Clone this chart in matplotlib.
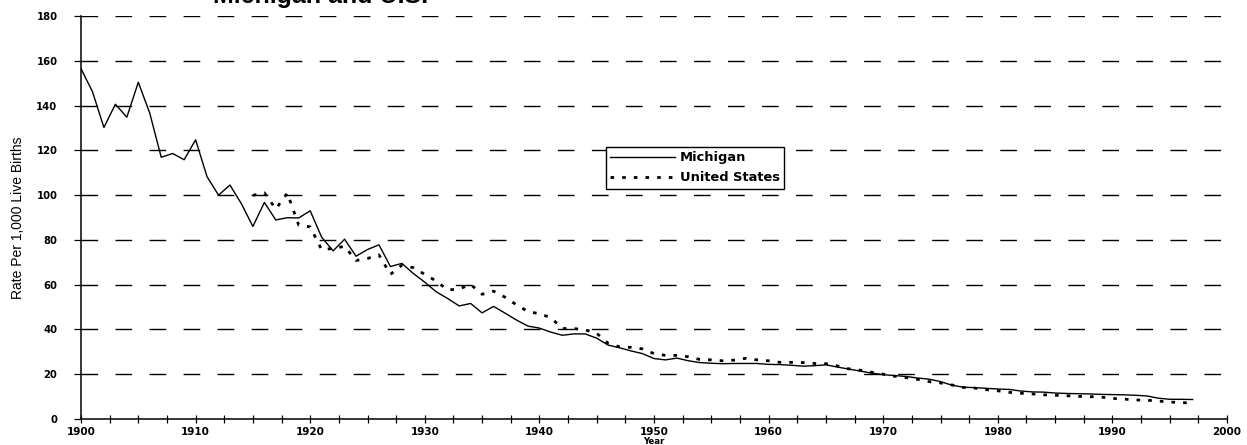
import matplotlib
matplotlib.use("Agg")
import matplotlib.pyplot as plt
from matplotlib.ticker import MultipleLocator

mi_years = list(range(1900, 1998))
mi_rate = [156.5, 146.2, 130.2, 140.6, 134.8, 150.4, 136.6, 116.9, 118.6, 115.8,
           124.7, 108.2, 100.0, 104.5, 96.1, 86.0, 96.7, 88.9, 89.9, 89.8,
           93.0, 81.2, 75.1, 80.3, 72.7, 75.7, 77.8, 68.1, 69.5, 65.0,
           61.1, 56.8, 53.8, 50.5, 51.6, 47.4, 50.3, 47.3, 44.2, 41.5,
           40.6, 38.8, 37.4, 38.0, 38.0, 36.1, 33.0, 31.8, 30.4, 29.2,
           27.0, 26.4, 27.2, 26.0, 25.2, 24.9, 24.7, 24.8, 24.8, 24.8,
           24.4, 24.3, 24.0, 23.6, 23.8, 24.2, 23.2, 22.3, 21.4, 20.5,
           19.8, 19.4, 19.0, 18.3, 17.8, 16.7, 15.1, 14.2, 14.0, 13.7,
           13.4, 13.2, 12.5, 12.1, 12.0, 11.6, 11.4, 11.3, 11.2, 11.0,
           10.9, 10.8, 10.6, 10.3, 9.3, 8.8, 8.8, 8.7]

us_years = list(range(1915, 1998))
us_rate = [99.9, 101.0, 93.8, 100.9, 86.6,
           85.8, 75.6, 76.2, 77.1, 70.8, 71.7, 73.3, 64.6, 68.7, 67.6,
           64.6, 61.6, 57.6, 58.1, 60.1, 55.7, 57.1, 54.4, 51.0, 48.0,
           47.0, 45.3, 40.4, 40.4, 39.8, 38.3, 33.8, 32.2, 32.0, 31.3,
           29.2, 28.4, 28.4, 27.8, 26.6, 26.4, 26.0, 26.3, 27.1, 26.4,
           26.0, 25.3, 25.3, 25.2, 24.8, 24.7, 23.7, 22.4, 21.8, 20.9,
           20.0, 19.1, 18.5, 17.7, 16.7, 16.1, 15.2, 14.1, 13.8, 13.1,
           12.6, 11.9, 11.5, 11.2, 10.8, 10.6, 10.4, 10.1, 10.0, 9.8,
           9.2, 8.9, 8.5, 8.4, 8.0, 7.6, 7.3, 7.2]

y_ticks = [0, 20, 40, 60, 80, 100, 120, 140, 160, 180]
x_ticks = [1900, 1910, 1920, 1930, 1940, 1950, 1960, 1970, 1980, 1990, 2000]

W, H = 1247, 445
fig = plt.figure(figsize=(W / 100, H / 100), dpi=100)
ax = fig.add_axes([81 / W, 1 - 419 / H, (1227 - 81) / W, (419 - 16) / H])

# dashed gridlines
for v in y_ticks[1:]:
    ax.axhline(v, color="black", lw=1.0, dashes=(12, 12.5), zorder=1)

ax.plot(mi_years, mi_rate, color="black", lw=1.0, label="Michigan", zorder=3)
ax.plot(us_years, us_rate, color="black", lw=2.0, linestyle=(0, (1.3, 2.9)),
        dash_capstyle="butt", label="United States", zorder=3)

ax.set_xlim(1900, 2000)
ax.set_ylim(0, 180)
ax.set_xticks(x_ticks)
ax.set_yticks(y_ticks)
ax.xaxis.set_minor_locator(MultipleLocator(2.5))
ax.tick_params(axis="x", which="both", direction="inout", length=6, width=0.9, pad=3)
ax.tick_params(axis="y", which="major", direction="out", length=5, width=0.9, pad=12)

for s in ["top", "right"]:
    ax.spines[s].set_visible(False)
for s in ["left", "bottom"]:
    ax.spines[s].set_linewidth(1.1)

for lab in ax.get_xticklabels():
    lab.set_fontfamily("DejaVu Sans")
    lab.set_fontweight("bold")
    lab.set_fontsize(7.5)
for lab in ax.get_yticklabels():
    lab.set_fontfamily("DejaVu Sans")
    lab.set_fontweight("bold")
    lab.set_fontsize(7.2)

ax.set_ylabel("Rate Per 1,000 Live Births", family="Liberation Sans",
              fontsize=10, labelpad=8)
ax.set_xlabel("Year", family="DejaVu Sans", fontweight="bold", fontsize=6.2, labelpad=0)

leg = ax.legend(loc="upper left", bbox_to_anchor=(606 / W, 1 - 147 / H),
                bbox_transform=fig.transFigure, frameon=True, fancybox=False,
                framealpha=1, edgecolor="black", handlelength=5.0,
                handletextpad=0.35, borderpad=0.32, labelspacing=0.55,
                borderaxespad=0,
                prop={"family": "DejaVu Sans", "weight": "bold", "size": 9.4})
leg.get_frame().set_linewidth(1.0)

fig.text(213 / W, 1 - 3 / H, "Michigan and U.S.", family="Liberation Sans",
         fontweight="bold", fontsize=18, va="baseline", ha="left")

fig.savefig("out.png", dpi=100, facecolor="white")
